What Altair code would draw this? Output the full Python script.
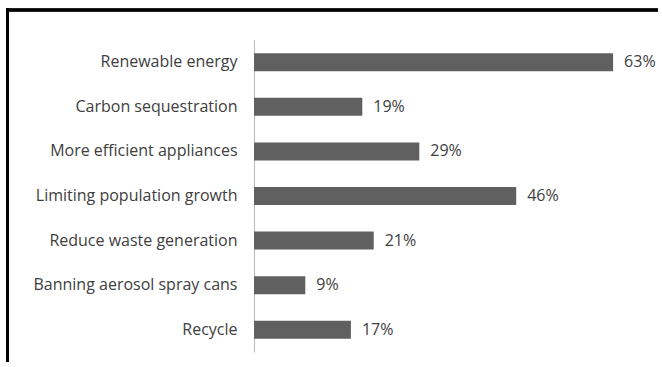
import altair as alt
import pandas as pd

categories = [
    "Renewable energy",
    "Carbon sequestration",
    "More efficient appliances",
    "Limiting population growth",
    "Reduce waste generation",
    "Banning aerosol spray cans",
    "Recycle",
]
values = [63, 19, 29, 46, 21, 9, 17]
value_labels = [f"{v}%" for v in values]

df = pd.DataFrame({"category": categories, "value": values, "label": value_labels})

W, H = 404, 312
xmax = W / 5.70

y_enc = alt.Y(
    "category:N",
    sort=categories,
    title=None,
    axis=alt.Axis(
        labelFont="Open Sans",
        labelFontSize=16,
        labelColor="#404040",
        labelPadding=17,
        ticks=False,
        domainColor="#b8b8b8",
        domainWidth=1,
        labelLimit=300,
    ),
)
x_enc = alt.X("value:Q", scale=alt.Scale(domain=[0, xmax], nice=False), axis=None)

bars = alt.Chart(df).mark_bar(size=18, color="#606060").encode(x=x_enc, y=y_enc)
texts = alt.Chart(df).mark_text(
    align="left", baseline="middle", dx=11, font="Open Sans", fontSize=16, color="#404040"
).encode(x=x_enc, y=alt.Y("category:N", sort=categories), text="label:N")

left_edge = alt.Chart(df).mark_rule(color="#000000", strokeWidth=2.5).encode(
    x=alt.value(-246.5), y=alt.value(-31.25), y2=alt.value(H + 10)
)
top_edge = alt.Chart(df).mark_rule(color="#000000", strokeWidth=2.5).encode(
    x=alt.value(-247.75), x2=alt.value(W), y=alt.value(-30)
)

chart = (
    alt.layer(bars, texts, left_edge, top_edge)
    .properties(
        width=W,
        height=H,
        autosize=alt.AutoSizeParams(type="none"),
        padding={"left": 254, "top": 40, "right": 0, "bottom": 10},
        background="white",
    )
    .configure_view(stroke=None)
)

chart.save("out.html", embed_options={"renderer": "svg", "actions": False})
